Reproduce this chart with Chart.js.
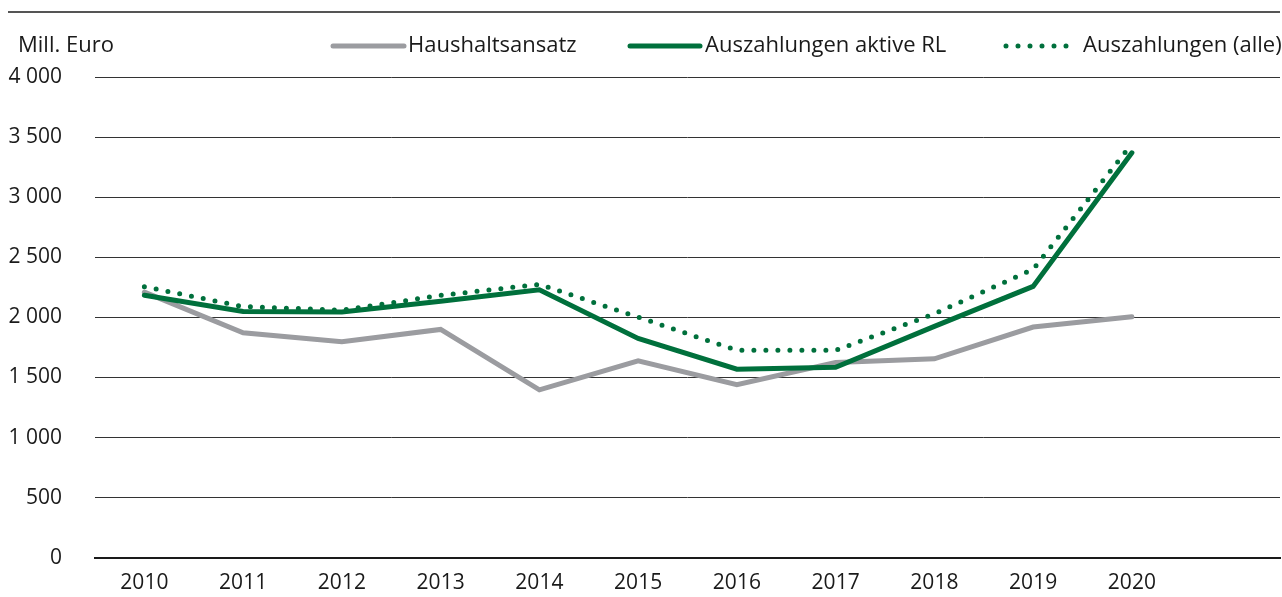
<!DOCTYPE html>
<html><head><meta charset="utf-8">
<script src="https://cdn.jsdelivr.net/npm/chart.js@4"></script>
<style>html,body{margin:0;padding:0;background:#fff;overflow:hidden;width:1282px;height:597px}canvas{display:block}</style>
</head><body><canvas id="c" width="1282" height="609" style="width:1282px;height:609px"></canvas>
<script>
const years = ['2010','2011','2012','2013','2014','2015','2016','2017','2018','2019','2020',''];
const haushaltsansatz = [2210, 1872, 1798, 1900, 1397, 1639, 1441, 1625, 1655, 1920, 2005, null];
const auszahlungenAktiv = [2185, 2050, 2045, 2134, 2230, 1825, 1569, 1585, 1925, 2258, 3369, null];
const auszahlungenAlle = [2255, 2090, 2060, 2183, 2275, 2002, 1726, 1726, 2030, 2400, 3444, null];
const yTicks = [0, 500, 1000, 1500, 2000, 2500, 3000, 3500, 4000];
const unitLabel = 'Mill. Euro';

const FONT = 'Open Sans';
const FS = 21;
const FS_LEG = 22;
const GREEN = '#00703c', GREY = '#9b9ca0', TEXT = '#1a1a1a';
Chart.defaults.font.family = FONT;
Chart.defaults.font.size = FS;
Chart.defaults.color = TEXT;

const fmt = v => String(v).replace(/\B(?=(\d{3})+(?!\d))/g, ' ');

// legend slots: [lineStart, lineEnd, textX]
const legendSlots = [[333, 404, 408], [630, 700, 705], [1006, 1070, 1083]];

const extras = {
  id: 'extras',
  afterDraw(chart) {
    const ctx = chart.ctx;
    ctx.save();
    ctx.strokeStyle = '#555';
    ctx.lineWidth = 2;
    ctx.beginPath(); ctx.moveTo(8, 12); ctx.lineTo(1280, 12); ctx.stroke();
    ctx.fillStyle = TEXT;
    ctx.font = FS_LEG + 'px ' + FONT;
    ctx.textBaseline = 'middle';
    ctx.textAlign = 'left';
    ctx.fillText(unitLabel, 18, 46);
    chart.data.datasets.forEach((ds, i) => {
      const [x0, x1, tx] = legendSlots[i];
      const y = 46;
      ctx.save();
      ctx.strokeStyle = ds.borderColor;
      ctx.lineWidth = ds.borderWidth;
      ctx.lineCap = 'round';
      ctx.setLineDash(ds.borderDash || []);
      ctx.beginPath(); ctx.moveTo(x0, y); ctx.lineTo(x1, y); ctx.stroke();
      ctx.restore();
      ctx.fillText(ds.label, tx, y);
    });
    ctx.restore();
  }
};

new Chart(document.getElementById('c'), {
  type: 'line',
  data: {
    labels: years,
    datasets: [
      { label: 'Haushaltsansatz', data: haushaltsansatz, borderColor: GREY, backgroundColor: GREY,
        borderWidth: 5, pointRadius: 0, tension: 0, borderCapStyle: 'round', borderJoinStyle: 'miter', order: 3 },
      { label: 'Auszahlungen aktive RL', data: auszahlungenAktiv, borderColor: GREEN, backgroundColor: GREEN,
        borderWidth: 5, pointRadius: 0, tension: 0, borderCapStyle: 'round', borderJoinStyle: 'miter', order: 2 },
      { label: 'Auszahlungen (alle)', data: auszahlungenAlle, borderColor: GREEN, backgroundColor: GREEN,
        borderWidth: 5, borderDash: [0, 12], borderCapStyle: 'round', pointRadius: 0, tension: 0, order: 1 }
    ]
  },
  options: {
    responsive: false, animation: false, devicePixelRatio: 1,
    layout: { padding: { left: 0, right: 2, top: 77, bottom: 0 } },
    plugins: {
      tooltip: { enabled: false },
      legend: { display: false }
    },
    scales: {
      x: {
        offset: true,
        grid: { display: false, drawTicks: false },
        border: { display: true, color: '#1a1a1a', width: 2 },
        ticks: { padding: 13, color: TEXT, maxRotation: 0, autoSkip: false }
      },
      y: {
        min: 0, max: 4000,
        afterBuildTicks: s => { s.ticks = yTicks.map(v => ({ value: v })); },
        afterFit: s => { s.width = 95; },
        grid: { color: '#333', lineWidth: 1, drawTicks: false },
        border: { display: false },
        ticks: { padding: 33, callback: v => fmt(v), color: TEXT }
      }
    }
  },
  plugins: [extras]
});
</script></body></html>
